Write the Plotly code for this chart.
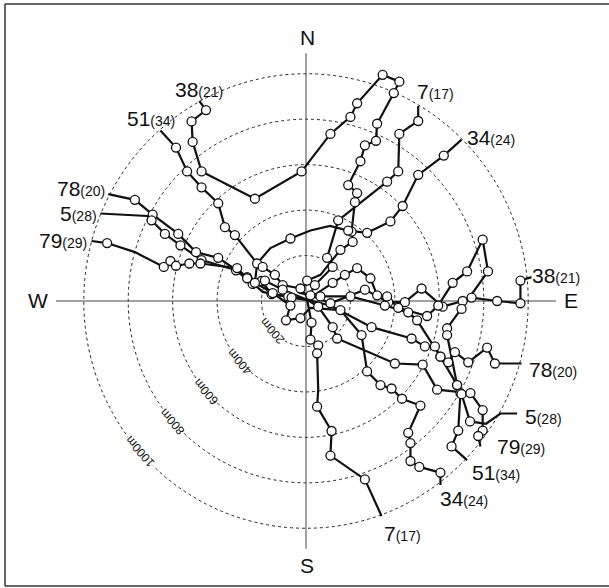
import math
import plotly.graph_objects as go

# ---------------- data (metres east / north of the release point) ----------------
# mk: 1 = observation point drawn as an open circle, 0 = line vertex only
t38_e = [-480, -450, -515, -510, -470, -230, -20, 110, 200, 230, 345, 420, 395, 320, 315, 265, 245, 190, 230, 220,
         205, 210, 155, 65, 5, -25, 20, 110, 265, 370, 445, 520, 615, 705, 745, 860, 965, 965, 1015]
t38_n = [880, 840, 790, 700, 570, 450, 570, 735, 810, 870, 995, 965, 915, 780, 705, 685, 615, 510, 475, 435,
         305, 260, 225, 115, 90, 35, 25, -10, 50, -5, -5, 55, -25, 0, 15, 0, -10, 90, 105]
t38_mk = [0, 1, 1, 1, 1, 1, 1, 1, 1, 1, 1, 1, 1, 1, 1, 1, 1, 1, 1, 1,
          1, 1, 1, 0, 1, 0, 1, 1, 1, 1, 1, 1, 1, 1, 1, 1, 1, 1, 0]

t51_e = [-655, -585, -535, -470, -395, -365, -320, -220, -195, -140, -105, -25, 5, 65, 200, 355, 460, 500,
         605, 680, 695, 685, 655, 725]
t51_n = [750, 675, 570, 500, 430, 325, 290, 165, 150, 115, 70, 55, 20, 20, 20, -20, -50, -85,
         -245, -370, -405, -570, -640, -700]
t51_mk = [0, 1, 1, 1, 1, 1, 1, 1, 1, 1, 1, 1, 0, 1, 1, 1, 1, 1, 1, 1, 1, 1, 1, 0]

t78_e = [-890, -770, -690, -575, -495, -395, -265, -200, -155, -80, 5, 110, 295, 475, 535, 580, 605, 640,
         670, 730, 815, 850, 970]
t78_n = [470, 445, 380, 295, 215, 190, 105, 88, 30, 20, 5, -20, -115, -165, -200, -200, -245, -270,
         -225, -270, -205, -275, -275]
t78_mk = [0, 1, 1, 1, 1, 1, 1, 1, 1, 1, 0, 0, 1, 1, 1, 1, 1, 1, 1, 1, 1, 1, 0]

t5_e = [-925, -715, -695, -635, -565, -470, -315, -240, -185, -105, 5, 120, 175, 230, 290, 320, 365, 415,
        545, 595, 660, 725, 795, 819, 700, 635, 635, 680, 700, 738, 810, 875, 950]
t5_n = [385, 374, 355, 295, 245, 180, 135, 75, 90, 50, 5, 80, 115, 145, 100, 25, 20, -30,
        -66, -20, 80, 130, 270, 130, -35, -120, -150, -370, -410, -530, -540, -495, -495]
t5_mk = [0, 0, 1, 1, 1, 1, 1, 1, 1, 1, 0, 1, 1, 1, 1, 1, 1, 1,
         1, 1, 1, 1, 1, 1, 1, 1, 1, 1, 1, 1, 0, 0, 0]

t79_e = [-965, -895, -770, -655, -640, -610, -585, -525, -475, -310, -265, -195, -65, 5, 55, 120, 140,
         400, 525, 590, 740, 795, 795, 775, 785]
t79_n = [264, 255, 215, 160, 150, 176, 155, 165, 165, 145, 100, 40, 15, 5, -25, -115, -165,
         -275, -280, -390, -405, -480, -570, -594, -640]
t79_mk = [0, 1, 0, 0, 1, 1, 1, 1, 1, 1, 1, 0, 1, 0, 1, 1, 1, 1, 1, 1, 1, 1, 1, 1, 0]

t34_e = [700, 620, 505, 435, 380, 275, 190, 108, 20, -70, -160, -220, -230, -150, -70, -90, -25, 20,
         155, 250, 275, 335, 385, 432, 515, 460, 470, 470, 510, 605, 605]
t34_n = [710, 640, 555, 418, 350, 300, 310, 330, 310, 275, 233, 165, 80, 35, -20, -85, -75, -30,
         -40, -150, -310, -370, -385, -430, -460, -580, -625, -704, -730, -755, -810]
t34_mk = [0, 1, 1, 1, 1, 1, 1, 0, 0, 1, 0, 0, 1, 1, 1, 1, 1, 0,
          1, 1, 1, 1, 1, 1, 1, 1, 1, 1, 1, 1, 0]

t7_e = [505, 505, 420, 415, 365, 145, 95, 120, 40, 5, 25, 20, 55, 50, 55, 50, 115, 110, 265, 340]
t7_n = [858, 792, 735, 570, 525, 355, 190, 150, 70, 5, -95, -170, -195, -230, -390, -465, -572, -680, -785, -946]
t7_mk = [0, 1, 1, 1, 1, 1, 1, 1, 1, 0, 1, 1, 1, 1, 0, 1, 1, 1, 1, 0]

track_ids = ["38", "51", "78", "5", "79", "34", "7"]
track_sub = ["21", "34", "20", "28", "29", "24", "17"]

ring_radii = [200, 400, 600, 800, 1000]
ring_labels = ["200m", "400m", "600m", "800m", "1000m"]
compass = ["N", "E", "S", "W"]

# ---------------- figure ----------------
W, H = 609, 588
FONT = "Liberation Sans, Arial, Helvetica, sans-serif"
CX, CY = 306, 301          # pixel position of the origin
SX, SY = 4.5, 4.4          # metres per pixel

fig = go.Figure()

tracks = [(t38_e, t38_n, t38_mk), (t51_e, t51_n, t51_mk), (t78_e, t78_n, t78_mk),
          (t5_e, t5_n, t5_mk), (t79_e, t79_n, t79_mk), (t34_e, t34_n, t34_mk),
          (t7_e, t7_n, t7_mk)]

for e, n, mk in tracks:
    fig.add_trace(go.Scatter(x=e, y=n, mode="lines",
                             line=dict(color="#111", width=2.2),
                             hoverinfo="skip", showlegend=False))
for e, n, mk in tracks:
    xe = [a for a, f in zip(e, mk) if f]
    yn = [b for b, f in zip(n, mk) if f]
    fig.add_trace(go.Scatter(x=xe, y=yn, mode="markers",
                             marker=dict(symbol="circle", size=9, color="white",
                                         line=dict(color="#111", width=1.3)),
                             hoverinfo="skip", showlegend=False))

shapes = []
for r in ring_radii:
    shapes.append(dict(type="circle", xref="x", yref="y", x0=-r, x1=r, y0=-r, y1=r,
                       line=dict(color="#222", width=1, dash="3px,3px"), layer="below"))
shapes.append(dict(type="line", xref="x", yref="y", x0=0, x1=0, y0=-1090, y1=1090,
                   line=dict(color="#444", width=1), layer="below"))
shapes.append(dict(type="line", xref="x", yref="y", x0=-1125, x1=1125, y0=0, y1=0,
                   line=dict(color="#444", width=1), layer="below"))
# frame (left, top, bottom)
fx0, fy0, fy1 = 5 / W, 1 - 586 / H, 1 - 4 / H
for x0, y0, x1, y1 in [(fx0, fy0, fx0, fy1), (fx0, fy1, 1.0, fy1), (fx0, fy0, 1.0, fy0)]:
    shapes.append(dict(type="line", xref="paper", yref="paper", x0=x0, y0=y0, x1=x1, y1=y1,
                       line=dict(color="#333", width=1.5)))


def P(px, py):
    return px / W, 1 - py / H


ann = []
# ring labels, written along each circle in the south-west
ang = math.radians(221.5)
for r, t in zip(ring_radii, ring_labels):
    ann.append(dict(x=r * math.cos(ang), y=r * math.sin(ang), xref="x", yref="y", text=t,
                    showarrow=False, textangle=-131.5, bgcolor="white", borderpad=0,
                    font=dict(family=FONT, size=12, color="#111")))

# compass letters
compass_pos = [(307, 37), (571, 300), (307, 565), (38, 300)]
for t, (px, py) in zip(compass, compass_pos):
    x, y = P(px, py)
    ann.append(dict(x=x, y=y, xref="paper", yref="paper", text=t, showarrow=False,
                    xanchor="center", yanchor="middle",
                    font=dict(family=FONT, size=21, color="#111")))

# track labels at both ends: (track index, left px, centre py)
label_pos = [(0, 173, 89), (1, 125, 119), (2, 55, 188), (3, 58, 213), (4, 37, 240),
             (6, 415, 92), (5, 465, 137), (0, 530, 275), (2, 527, 369), (3, 523, 416),
             (4, 495, 446), (1, 470, 473), (5, 438, 498), (6, 382, 533)]
for i, px, py in label_pos:
    x, y = P(px, py)
    txt = f"{track_ids[i]}<span style='font-size:14px'>({track_sub[i]})</span>"
    ann.append(dict(x=x, y=y, xref="paper", yref="paper", text=txt, showarrow=False,
                    xanchor="left", yanchor="middle",
                    font=dict(family=FONT, size=21, color="#111")))

fig.update_layout(
    width=W, height=H,
    margin=dict(l=0, r=0, t=0, b=0),
    paper_bgcolor="white", plot_bgcolor="white",
    xaxis=dict(range=[-CX * SX, (W - CX) * SX], visible=False, fixedrange=True),
    yaxis=dict(range=[-(H - CY) * SY, CY * SY], visible=False, fixedrange=True),
    shapes=shapes, annotations=ann, showlegend=False,
)

fig.write_html("out.html", config={"displayModeBar": False},
               post_script="document.body.style.margin='0';document.body.style.overflow='hidden';")
